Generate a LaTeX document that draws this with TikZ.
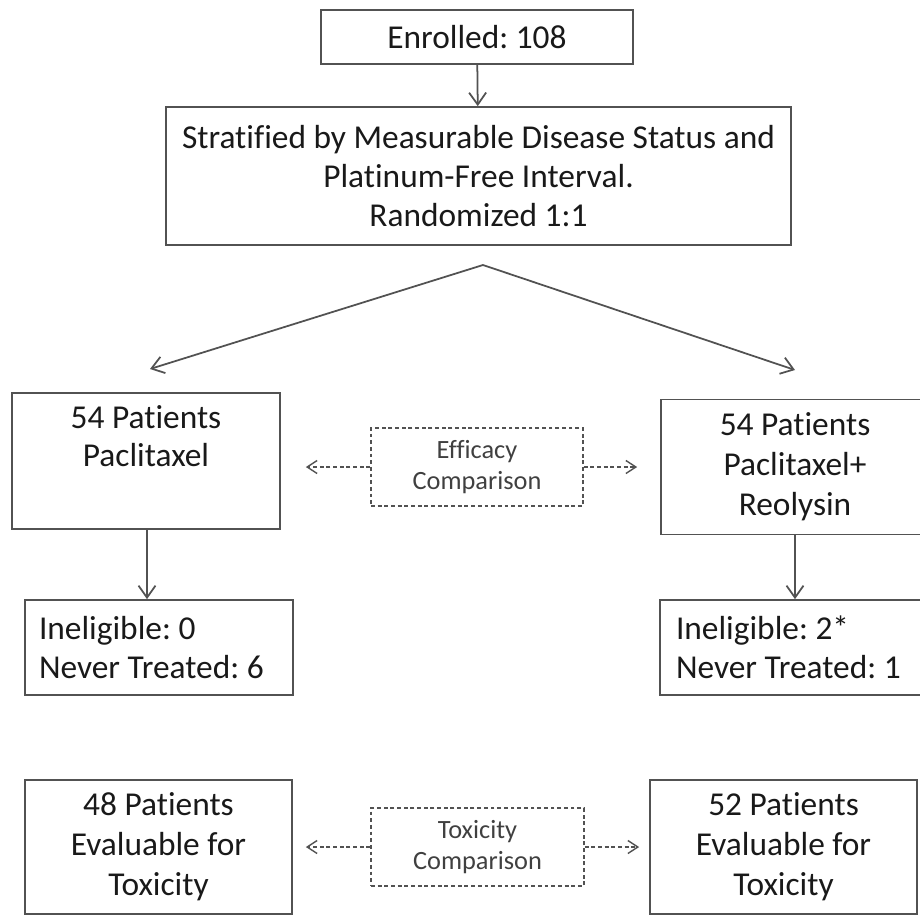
\documentclass[tikz,border=0pt]{standalone}
\usepackage{fontspec}
\setmainfont{Carlito}[Ligatures=NoCommon]
\usetikzlibrary{arrows.meta}

\begin{document}
\frenchspacing
\begin{tikzpicture}[x=0.02cm, y=-0.02cm,
	box/.style={draw=black!68, line width=1pt, text=black!90, align=center, inner sep=0pt,
		font=\fontsize{19}{22}\selectfont},
	leftbox/.style={box, align=left, minimum height=1.9cm,
		execute at begin node={\spaceskip=0pt\xspaceskip=0pt\relax}},
	cmpbox/.style={box, dashed, dash pattern=on 2.2pt off 1.6pt, line width=0.8pt, text=black!75,
		font=\fontsize{15}{18}\selectfont},
	arr/.style={draw=black!68, line width=1pt, -{Straight Barb[length=0.24cm,width=0.34cm]}},
	darr/.style={arr, line width=0.8pt, dash pattern=on 2.2pt off 1.6pt,
		-{Straight Barb[length=0.2cm,width=0.26cm]}}]
	\useasboundingbox (0,0) rectangle (920,914);
	\node[box, minimum width=6.24cm, minimum height=1.08cm] (enr) at (477,37) {Enrolled: 108};
	\node[box, minimum width=12.5cm, minimum height=2.76cm] (strat) at (478.5,176)
		{Stratified by Measurable Disease Status and\\Platinum-Free Interval.\\Randomized 1:1};
	\node[box, minimum width=5.36cm, minimum height=2.72cm] (pac) at (146,461)
		{54 Patients\\Paclitaxel\\ \strut};
	\node[box, minimum width=5.36cm, minimum height=2.7cm, font=\fontsize{19}{22.8}\selectfont] (combo) at (795,467)
		{54 Patients\\Paclitaxel+\\Reolysin};
	\node[cmpbox, minimum width=4.24cm, minimum height=1.56cm] (eff) at (477,467)
		{Efficacy\\Comparison};
	\node[leftbox, text width=4.8cm, inner xsep=0.28cm] (inelA) at (159,647.5)
		{Ineligible: 0\\Never Treated: 6};
	\node[leftbox, text width=4.72cm, inner xsep=0.32cm] (inelB) at (794,647.5)
		{Ineligible: 2*\\Never Treated: 1};
	\node[box, minimum width=5.34cm, minimum height=2.68cm, font=\fontsize{19}{22.8}\selectfont] (evalA) at (158.5,847)
		{48 Patients\\Evaluable for\\Toxicity};
	\node[box, minimum width=5.34cm, minimum height=2.68cm, font=\fontsize{19}{22.8}\selectfont] (evalB) at (783.5,847)
		{52 Patients\\Evaluable for\\Toxicity};
	\node[cmpbox, minimum width=4.26cm, minimum height=1.56cm] (tox) at (477.5,847)
		{Toxicity\\Comparison};
	\coordinate (apex) at (483,265);
	\coordinate (tipA) at (150,369);
	\coordinate (tipB) at (795,370);
	\draw[arr] (enr) -- (strat);
	\draw[arr] (apex) -- (tipA);
	\draw[arr] (apex) -- (tipB);
	\draw[arr] ([xshift=0.02cm]pac.south) -- ([xshift=0.02cm]pac.south |- inelA.north);
	\draw[arr] (combo.south) -- (combo.south |- inelB.north);
	\draw[darr, shorten >=0.5cm] (eff.west) -- (eff.west -| pac.east);
	\draw[darr, shorten >=0.46cm] (eff.east) -- (eff.east -| combo.west);
	\draw[darr, shorten >=0.26cm] (tox.west) -- (tox.west -| evalA.east);
	\draw[darr, shorten >=0.2cm] (tox.east) -- (tox.east -| evalB.west);
\end{tikzpicture}
\end{document}
